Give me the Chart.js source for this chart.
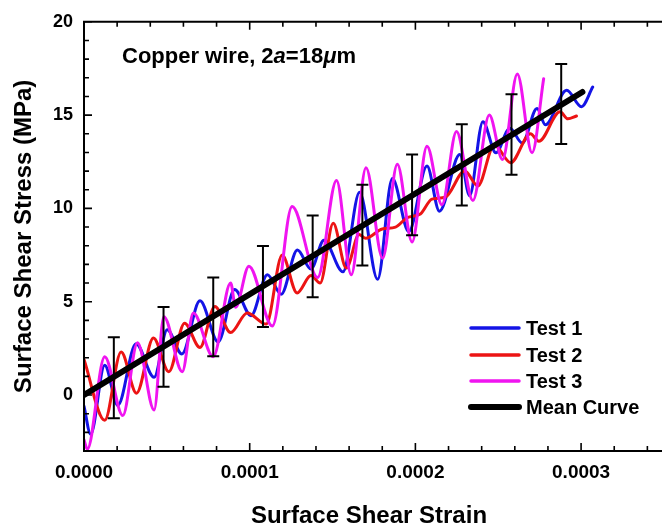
<!DOCTYPE html>
<html><head><meta charset="utf-8">
<script src="https://cdn.jsdelivr.net/npm/chart.js@4.4.0/dist/chart.umd.min.js"></script>
<style>html,body{margin:0;padding:0;background:#fff;}#wrap{width:662px;height:531px;}</style>
</head><body><div id="wrap"><canvas id="c" width="662" height="531"></canvas></div>
<script>
// ---- data ----
const test1X = [0,0.000004,0.0000125,0.0000204,0.0000314,0.0000423,0.0000502,0.0000591,0.00007,0.000081,0.0000909,0.0001008,0.0001107,0.000119,0.0001288,0.000137,0.0001448,0.0001563,0.0001663,0.0001772,0.0001861,0.000196,0.000207,0.0002145,0.0002268,0.0002327,0.0002407,0.0002486,0.000257,0.0002645,0.0002734,0.0002784,0.0002913,0.0003002,0.000307];
const test1Y = [-0.6,-2.1,1.6,-0.55,2.75,0.95,3.5,2.2,5.05,2.85,5.65,4.25,6.45,5.4,7.77,6.75,8.3,6.6,10.86,6.2,11.6,8.75,12.27,9.85,12.89,10.68,14.65,12.98,14.3,13.5,15.36,14.48,16.33,15.45,16.5];
const test2X = [0,0.0000125,0.0000224,0.0000317,0.0000419,0.0000512,0.0000607,0.00007,0.000079,0.0000885,0.0000985,0.00011,0.0001196,0.0001286,0.000137,0.0001425,0.0001504,0.0001583,0.000166,0.00017,0.00018,0.000188,0.000195,0.000203,0.00021,0.000218,0.0002298,0.0002377,0.0002476,0.0002575,0.0002694,0.0002745,0.0002873,0.000292,0.0002972];
const test2Y = [1.9,-1.35,2.3,0.1,3.05,1.25,3.85,2.55,4.75,3.35,4.4,3.8,7.5,5.47,6.4,6.0,9.2,6.8,8.6,8.4,8.9,9.0,9.5,9.7,10.5,10.6,12.0,11.2,13.4,12.45,14.0,13.6,15.18,14.8,14.95];
const test3X = [0,0.000002,0.0000125,0.0000234,0.0000323,0.0000423,0.0000482,0.0000593,0.000066,0.000078,0.0000885,0.0000915,0.0000995,0.0001137,0.0001256,0.000141,0.0001524,0.0001613,0.0001702,0.0001802,0.0001891,0.000198,0.000207,0.000216,0.0002248,0.0002347,0.0002446,0.0002526,0.0002615,0.0002704,0.0002774];
const test3Y = [-2.4,-2.9,2.05,-1.1,2.8,-0.8,4.2,1.25,4.4,2.05,6.0,4.7,6.9,3.7,10.1,6.3,11.5,6.45,12.18,7.33,12.36,8.2,13.33,10.2,14.12,10.42,15.0,12.62,17.2,12.98,16.95];
const meanX = [0,0.0003008];
const meanY = [0,16.24];
const errX = [0.000018,0.000048,0.000078,0.000108,0.000138,0.000168,0.000198,0.000228,0.000258,0.000288];
const errHi = [3.09,4.71,6.30,7.98,9.62,11.27,12.89,14.51,16.12,17.74];
const errLo = [-1.24,0.44,2.08,3.65,5.24,6.94,8.56,10.15,11.80,13.45];
const xTickLabels = ['0.0000','0.0001','0.0002','0.0003'];
const yTickLabels = ['0','5','10','15','20'];
const seriesNames = ['Test 1','Test 2','Test 3','Mean Curve'];
const note = {pre:'Copper wire, 2', it:'a', mid:'=18', it2:'\u03BC', post:'m'};

const FONT = '"Liberation Sans", Arial, sans-serif';
const pts = (xs, ys) => xs.map((x, i) => ({x, y: ys[i]}));
const errData = [];
errX.forEach((x, i) => { errData.push({x, y: errLo[i]}, {x, y: errHi[i]}, {x, y: null}); });

const lineDs = (label, xs, ys, color, order) => ({
  label, data: pts(xs, ys), borderColor: color, backgroundColor: color,
  borderWidth: 3, pointRadius: 0, cubicInterpolationMode: 'monotone', order,
  borderCapStyle: 'round', borderJoinStyle: 'round'
});

const decor = {
  id: 'decor',
  afterDatasetsDraw(chart) {
    const {ctx, chartArea: a, scales: {x, y}} = chart;
    ctx.save();
    ctx.strokeStyle = '#000';
    // frame
    ctx.lineWidth = 2;
    ctx.beginPath();
    ctx.moveTo(a.left, a.top); ctx.lineTo(chart.width + 5, a.top);
    ctx.moveTo(a.left, a.top - 1); ctx.lineTo(a.left, a.bottom + 1);
    ctx.moveTo(a.left - 1, a.bottom); ctx.lineTo(chart.width + 5, a.bottom);
    ctx.stroke();
    // ticks (inward)
    ctx.lineWidth = 1.6;
    ctx.beginPath();
    for (let k = 0; k * 0.00002 <= x.max + 1e-12; k++) {
      const v = k * 0.00002, px = x.getPixelForValue(v);
      const len = (k % 5 === 0) ? 8 : 5;
      ctx.moveTo(px, a.bottom); ctx.lineTo(px, a.bottom - len);
      ctx.moveTo(px, a.top); ctx.lineTo(px, a.top + len);
    }
    for (let v = Math.ceil(y.min); v <= y.max; v++) {
      const py = y.getPixelForValue(v);
      const len = (v % 5 === 0) ? 8 : 5;
      ctx.moveTo(a.left, py); ctx.lineTo(a.left + len, py);
    }
    ctx.stroke();
    // annotation
    ctx.fillStyle = '#000';
    ctx.textBaseline = 'middle';
    const ny = 57;
    let nx = 122;
    const parts = [[note.pre, ''], [note.it, 'italic '], [note.mid, ''], [note.it2, 'italic '], [note.post, '']];
    parts.forEach(([t, st]) => {
      ctx.font = st + 'bold 22px ' + FONT;
      ctx.fillText(t, nx, ny);
      nx += ctx.measureText(t).width;
    });
    // legend
    const rows = [328, 355, 381, 407];
    const dsIdx = [0, 1, 2, 3];
    ctx.font = 'bold 20px ' + FONT;
    dsIdx.forEach((di, r) => {
      const ds = chart.data.datasets[di];
      ctx.strokeStyle = ds.borderColor;
      ctx.lineWidth = di === 3 ? 6 : 3.5;
      ctx.lineCap = 'round';
      ctx.beginPath(); ctx.moveTo(471, rows[r]); ctx.lineTo(519, rows[r]); ctx.stroke();
      ctx.fillStyle = '#000';
      ctx.textAlign = 'left';
      ctx.fillText(ds.label, 526, rows[r] + 1);
    });
    ctx.restore();
  }
};

new Chart(document.getElementById('c'), {
  type: 'line',
  data: {
    datasets: [
      lineDs(seriesNames[0], test1X, test1Y, '#1414e6', 4),
      lineDs(seriesNames[1], test2X, test2Y, '#ec1414', 3),
      lineDs(seriesNames[2], test3X, test3Y, '#f014f0', 2),
      {label: seriesNames[3], data: pts(meanX, meanY), borderColor: '#000', backgroundColor: '#000',
       borderWidth: 6, pointRadius: 0, order: 1, borderCapStyle: 'round'},
      {label: 'err', data: errData, borderColor: '#000', borderWidth: 2, spanGaps: false,
       pointStyle: 'line', pointRadius: 6, pointBorderWidth: 2, pointBorderColor: '#000',
       pointBackgroundColor: '#000', order: 0}
    ]
  },
  options: {
    responsive: false, animation: false, devicePixelRatio: 1,
    layout: {padding: {top: 17, right: 0, left: 0, bottom: 0}},
    plugins: {legend: {display: false}, tooltip: {enabled: false}},
    scales: {
      x: {
        type: 'linear', min: 0, max: 0.000344,
        grid: {display: false, drawTicks: false}, border: {display: false},
        ticks: {stepSize: 0.0001, includeBounds: false, color: '#000', padding: 10,
          font: {family: FONT, size: 19, weight: 'bold'},
          callback: (v) => { const i = Math.round(v / 0.0001); return Math.abs(v - i * 0.0001) < 1e-9 ? xTickLabels[i] : ''; }},
        title: {display: true, text: 'Surface Shear Strain', color: '#000',
          font: {family: FONT, size: 24, weight: 'bold'}, padding: {top: 0, bottom: 0}},
        afterFit: (s) => { s.height = 80; }
      },
      y: {
        type: 'linear', min: -3, max: 20,
        grid: {display: false, drawTicks: false}, border: {display: false},
        ticks: {stepSize: 5, includeBounds: false, color: '#000', padding: 11,
          font: {family: FONT, size: 18, weight: 'bold'},
          callback: (v) => { const i = Math.round(v / 5); return Math.abs(v - i * 5) < 1e-9 && i >= 0 ? yTickLabels[i] : ''; }},
        title: {display: true, text: 'Surface Shear Stress (MPa)', color: '#000',
          font: {family: FONT, size: 24, weight: 'bold'}, padding: {top: 10, bottom: 0}},
        afterFit: (s) => { s.width = 84; }
      }
    }
  },
  plugins: [decor]
});
</script></body></html>
